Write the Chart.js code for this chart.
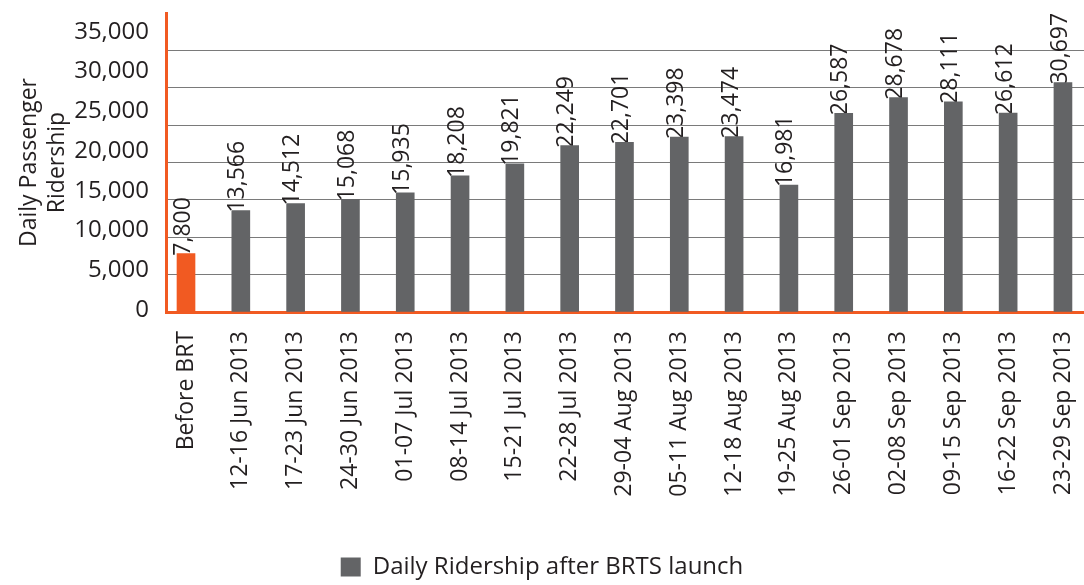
<!DOCTYPE html>
<html>
<head>
<meta charset="utf-8">
<title>Daily Passenger Ridership</title>
<script src="https://cdn.jsdelivr.net/npm/chart.js@4.4.1/dist/chart.umd.min.js"></script>
<style>
  html, body { margin: 0; padding: 0; background: #fff; overflow: hidden; }
  #wrap { width: 1084px; height: 585px; }
  canvas { display: block; }
</style>
</head>
<body>
<div id="wrap"><canvas id="ridership" width="1084" height="585"></canvas></div>
<script>
/* Daily passenger ridership, before BRT and weekly after BRTS launch */
var WEEKS = [
  'Before BRT',
  '12-16 Jun 2013', '17-23 Jun 2013', '24-30 Jun 2013',
  '01-07 Jul 2013', '08-14 Jul 2013', '15-21 Jul 2013', '22-28 Jul 2013',
  '29-04 Aug 2013', '05-11 Aug 2013', '12-18 Aug 2013', '19-25 Aug 2013',
  '26-01 Sep 2013', '02-08 Sep 2013', '09-15 Sep 2013', '16-22 Sep 2013',
  '23-29 Sep 2013'
];
var RIDERS = [
  7800,
  13566, 14512, 15068,
  15935, 18208, 19821, 22249,
  22701, 23398, 23474, 16981,
  26587, 28678, 28111, 26612,
  30697
];
var Y_TICKS = [0, 5000, 10000, 15000, 20000, 25000, 30000, 35000];
var SERIES_LABEL = 'Daily Ridership after BRTS launch';
var Y_TITLE = ['Daily Passenger', 'Ridership'];

var ORANGE = '#f15a22';
var GREY = '#636466';
var GRID = '#7a7a7a';
var INK = '#231f20';
var FONT = '"Open Sans", "Noto Sans", sans-serif';

Chart.defaults.font.family = FONT;
Chart.defaults.color = INK;

function fmt(v) { return Number(v).toLocaleString('en-US'); }
function tickList(values) { return values.map(function (v) { return { value: v }; }); }
function noEdgePadding(s) {
  s.paddingTop = 0; s.paddingBottom = 0;
  s.paddingLeft = 0; s.paddingRight = 0;
}

// numbers sit on top of each bar, turned upright; drawn under the bars
var barValueLabels = {
  id: 'barValueLabels',
  beforeDatasetsDraw: function (chart) {
    var ctx = chart.ctx;
    var meta = chart.getDatasetMeta(0);
    ctx.save();
    ctx.font = '23px ' + FONT;
    ctx.fillStyle = INK;
    ctx.textAlign = 'left';
    ctx.textBaseline = 'middle';
    meta.data.forEach(function (bar, i) {
      ctx.save();
      ctx.translate(bar.x - 3, bar.y + 2);
      ctx.rotate(-Math.PI / 2);
      ctx.fillText(fmt(RIDERS[i]), 0, 0);
      ctx.restore();
    });
    ctx.restore();
  }
};

new Chart(document.getElementById('ridership'), {
  type: 'bar',
  data: {
    datasets: [{
      label: SERIES_LABEL,
      data: RIDERS.map(function (v, i) { return { x: i, y: v }; }),
      // first bar (before BRT) in orange, the weeks after launch in grey
      backgroundColor: RIDERS.map(function (v, i) { return i === 0 ? ORANGE : GREY; }),
      barThickness: 18,
      yAxisID: 'y'
    }]
  },
  options: {
    responsive: false,
    animation: false,
    devicePixelRatio: 1,
    layout: { padding: { top: 13, right: 0, bottom: -4, left: 0 } },
    plugins: {
      tooltip: { enabled: false },
      legend: {
        position: 'bottom',
        labels: {
          boxWidth: 20,
          boxHeight: 19,
          padding: 6,
          color: INK,
          font: { size: 24 },
          generateLabels: function (chart) {
            var items = Chart.defaults.plugins.legend.labels.generateLabels(chart);
            items.forEach(function (it) {
              it.fillStyle = GREY;
              it.strokeStyle = GREY;
              it.lineWidth = 0;
            });
            return items;
          }
        }
      }
    },
    scales: {
      x: {
        type: 'linear',
        offset: false,
        min: -0.365,
        max: 16.384,
        afterBuildTicks: function (s) { s.ticks = tickList(WEEKS.map(function (w, i) { return i; })); },
        afterFit: function (s) { s.height = 237; noEdgePadding(s); },
        grid: { display: false, drawTicks: false },
        border: { display: true, color: ORANGE, width: 3 },
        ticks: {
          autoSkip: false,
          minRotation: 90,
          maxRotation: 90,
          padding: 19,
          color: INK,
          font: { size: 23 },
          callback: function (v) { return WEEKS[v]; }
        }
      },
      // value scale: bars, gridlines and the axis title
      y: {
        position: 'left',
        weight: 1,
        min: 0,
        max: 40000,
        afterBuildTicks: function (s) { s.ticks = tickList(Y_TICKS); },
        afterFit: function (s) { s.width = 66; noEdgePadding(s); },
        grid: {
          drawTicks: false,
          lineWidth: 1,
          color: function (c) { return c.tick && c.tick.value === 0 ? 'rgba(0,0,0,0)' : GRID; }
        },
        border: { display: false },
        ticks: { display: false },
        title: {
          display: true,
          text: Y_TITLE,
          color: INK,
          font: { size: 23 },
          padding: { top: 16, bottom: 0 }
        }
      },
      // tick captions, spaced a little looser than the gridlines
      y2: {
        position: 'left',
        weight: 0,
        min: -250,
        max: 37375,
        afterBuildTicks: function (s) { s.ticks = tickList(Y_TICKS); },
        afterFit: function (s) { s.width = 100; noEdgePadding(s); },
        grid: { display: false, drawTicks: false },
        border: { display: true, color: ORANGE, width: 3 },
        ticks: {
          padding: 17,
          color: INK,
          font: { size: 24 },
          callback: function (v) { return fmt(v); }
        }
      }
    }
  },
  plugins: [barValueLabels]
});
</script>
</body>
</html>
